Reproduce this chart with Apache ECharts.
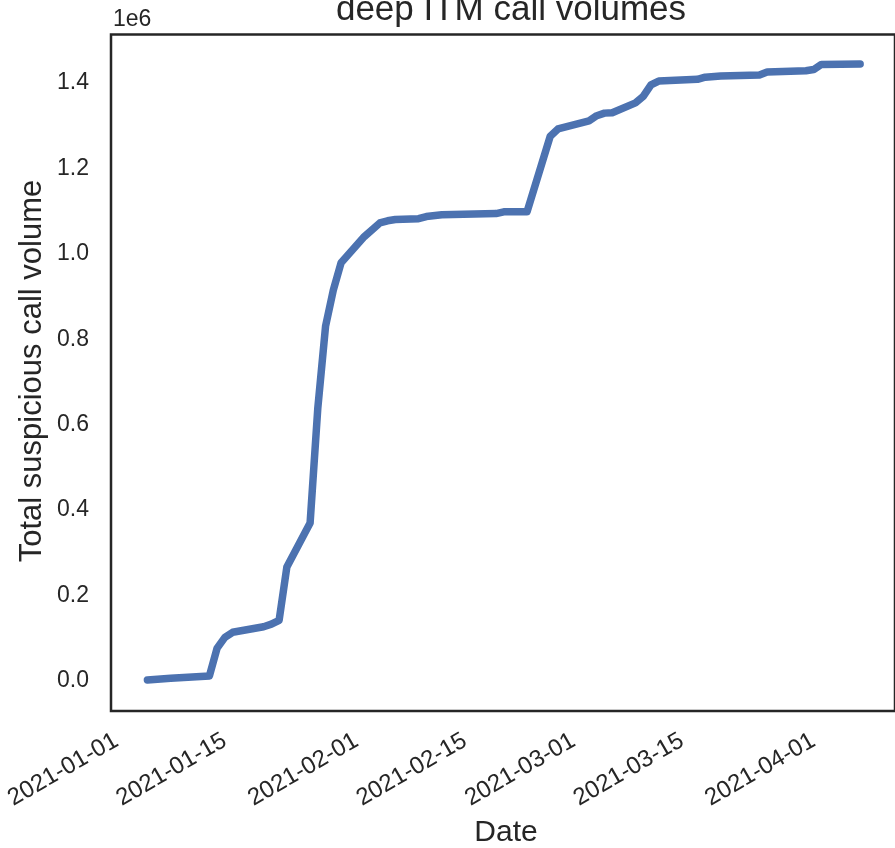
<!DOCTYPE html>
<html><head><meta charset="utf-8">
<script src="https://cdn.jsdelivr.net/npm/echarts@6/dist/echarts.min.js"></script>
<style>html,body{margin:0;padding:0;background:#fff}#c{width:895px;height:848px}</style>
</head><body><div id="c"></div>
<script>
const dates = ['2021-01-04','2021-01-07','2021-01-12','2021-01-13','2021-01-14','2021-01-15','2021-01-19','2021-01-20','2021-01-21','2021-01-22','2021-01-25','2021-01-26','2021-01-27','2021-01-28','2021-01-29','2021-02-01','2021-02-03','2021-02-04','2021-02-05','2021-02-08','2021-02-09','2021-02-11','2021-02-18','2021-02-19','2021-02-22','2021-02-25','2021-02-26','2021-03-02','2021-03-03','2021-03-04','2021-03-05','2021-03-08','2021-03-09','2021-03-10','2021-03-11','2021-03-16','2021-03-17','2021-03-19','2021-03-24','2021-03-25','2021-03-30','2021-03-31','2021-04-01','2021-04-06'];
const volumes = [2500,6300,11700,77000,102000,114000,127000,133000,142000,267000,370000,640000,831000,915000,979000,1040000,1072000,1077000,1080000,1082000,1087000,1091000,1094000,1098000,1098000,1275000,1292000,1311000,1323000,1329000,1330000,1353000,1368000,1395000,1404000,1408000,1413000,1416000,1418000,1425000,1428000,1431000,1443000,1444000];
const xTickLabels = ['2021-01-01','2021-01-15','2021-02-01','2021-02-15','2021-03-01','2021-03-15','2021-04-01'];
const yTickValues = [0,200000,400000,600000,800000,1000000,1200000,1400000];
const titleText = 'deep ITM call volumes';
const xLabelText = 'Date';
const yLabelText = 'Total suspicious call volume';
const offsetText = '1e6';

function utc(s){const p=s.split('-').map(Number);return Date.UTC(p[0],p[1]-1,p[2]);}
function fmt(v){const d=new Date(v);const p=n=>String(n).padStart(2,'0');return d.getUTCFullYear()+'-'+p(d.getUTCMonth()+1)+'-'+p(d.getUTCDate());}
const DAY=86400000;
const FONT='"Liberation Sans", Arial, sans-serif';
const TXT='#262626';
const chart = echarts.init(document.getElementById('c'), null, {renderer:'canvas'});
chart.setOption({
  animation:false, backgroundColor:'#ffffff',
  grid:{left:111, top:34.5, width:789.5, height:676.5, show:true, borderColor:'#262626', borderWidth:2.5, backgroundColor:'transparent', containLabel:false},
  xAxis:{type:'value', min: utc('2021-01-01') - 1.7*DAY, max: utc('2021-01-01') + 99.5*DAY, scale:true,
    splitLine:{show:false}, axisLine:{show:false}, axisTick:{show:false},
    axisLabel:{customValues: xTickLabels.map(utc), rotate:30, formatter: v=>fmt(v), fontSize:24, color:TXT, fontFamily:FONT, margin:23.5, padding:[0,9,0,0], hideOverlap:false}},
  yAxis:{type:'value', min:-70200, max:1513000,
    splitLine:{show:false}, axisLine:{show:false}, axisTick:{show:false},
    axisLabel:{customValues: yTickValues, formatter: v=>(v/1e6).toFixed(1), fontSize:23, color:TXT, fontFamily:FONT, margin:22, padding:[4,0,0,0]}},
  series:[{type:'line', data: dates.map((d,i)=>[utc(d), volumes[i]]), showSymbol:false, smooth:false,
    lineStyle:{color:'#4C72B0', width:7.5, cap:'round', join:'round'}, itemStyle:{color:'#4C72B0'}}],
  graphic:[
    {type:'text', x:511, y:10, style:{text:titleText, fontSize:35, fontFamily:FONT, fill:TXT, align:'center', verticalAlign:'middle', textAlign:'center', textVerticalAlign:'middle'}},
    {type:'text', x:113, y:20, style:{text:offsetText, fontSize:23, fontFamily:FONT, fill:TXT, align:'left', verticalAlign:'middle', textAlign:'left', textVerticalAlign:'middle'}},
    {type:'text', x:506, y:832.5, style:{text:xLabelText, fontSize:30, fontFamily:FONT, fill:TXT, align:'center', verticalAlign:'middle', textAlign:'center', textVerticalAlign:'middle'}},
    {type:'text', x:32, y:371, rotation:Math.PI/2, style:{text:yLabelText, fontSize:31, fontFamily:FONT, fill:TXT, align:'center', verticalAlign:'middle', textAlign:'center', textVerticalAlign:'middle'}}
  ]
});
</script></body></html>
